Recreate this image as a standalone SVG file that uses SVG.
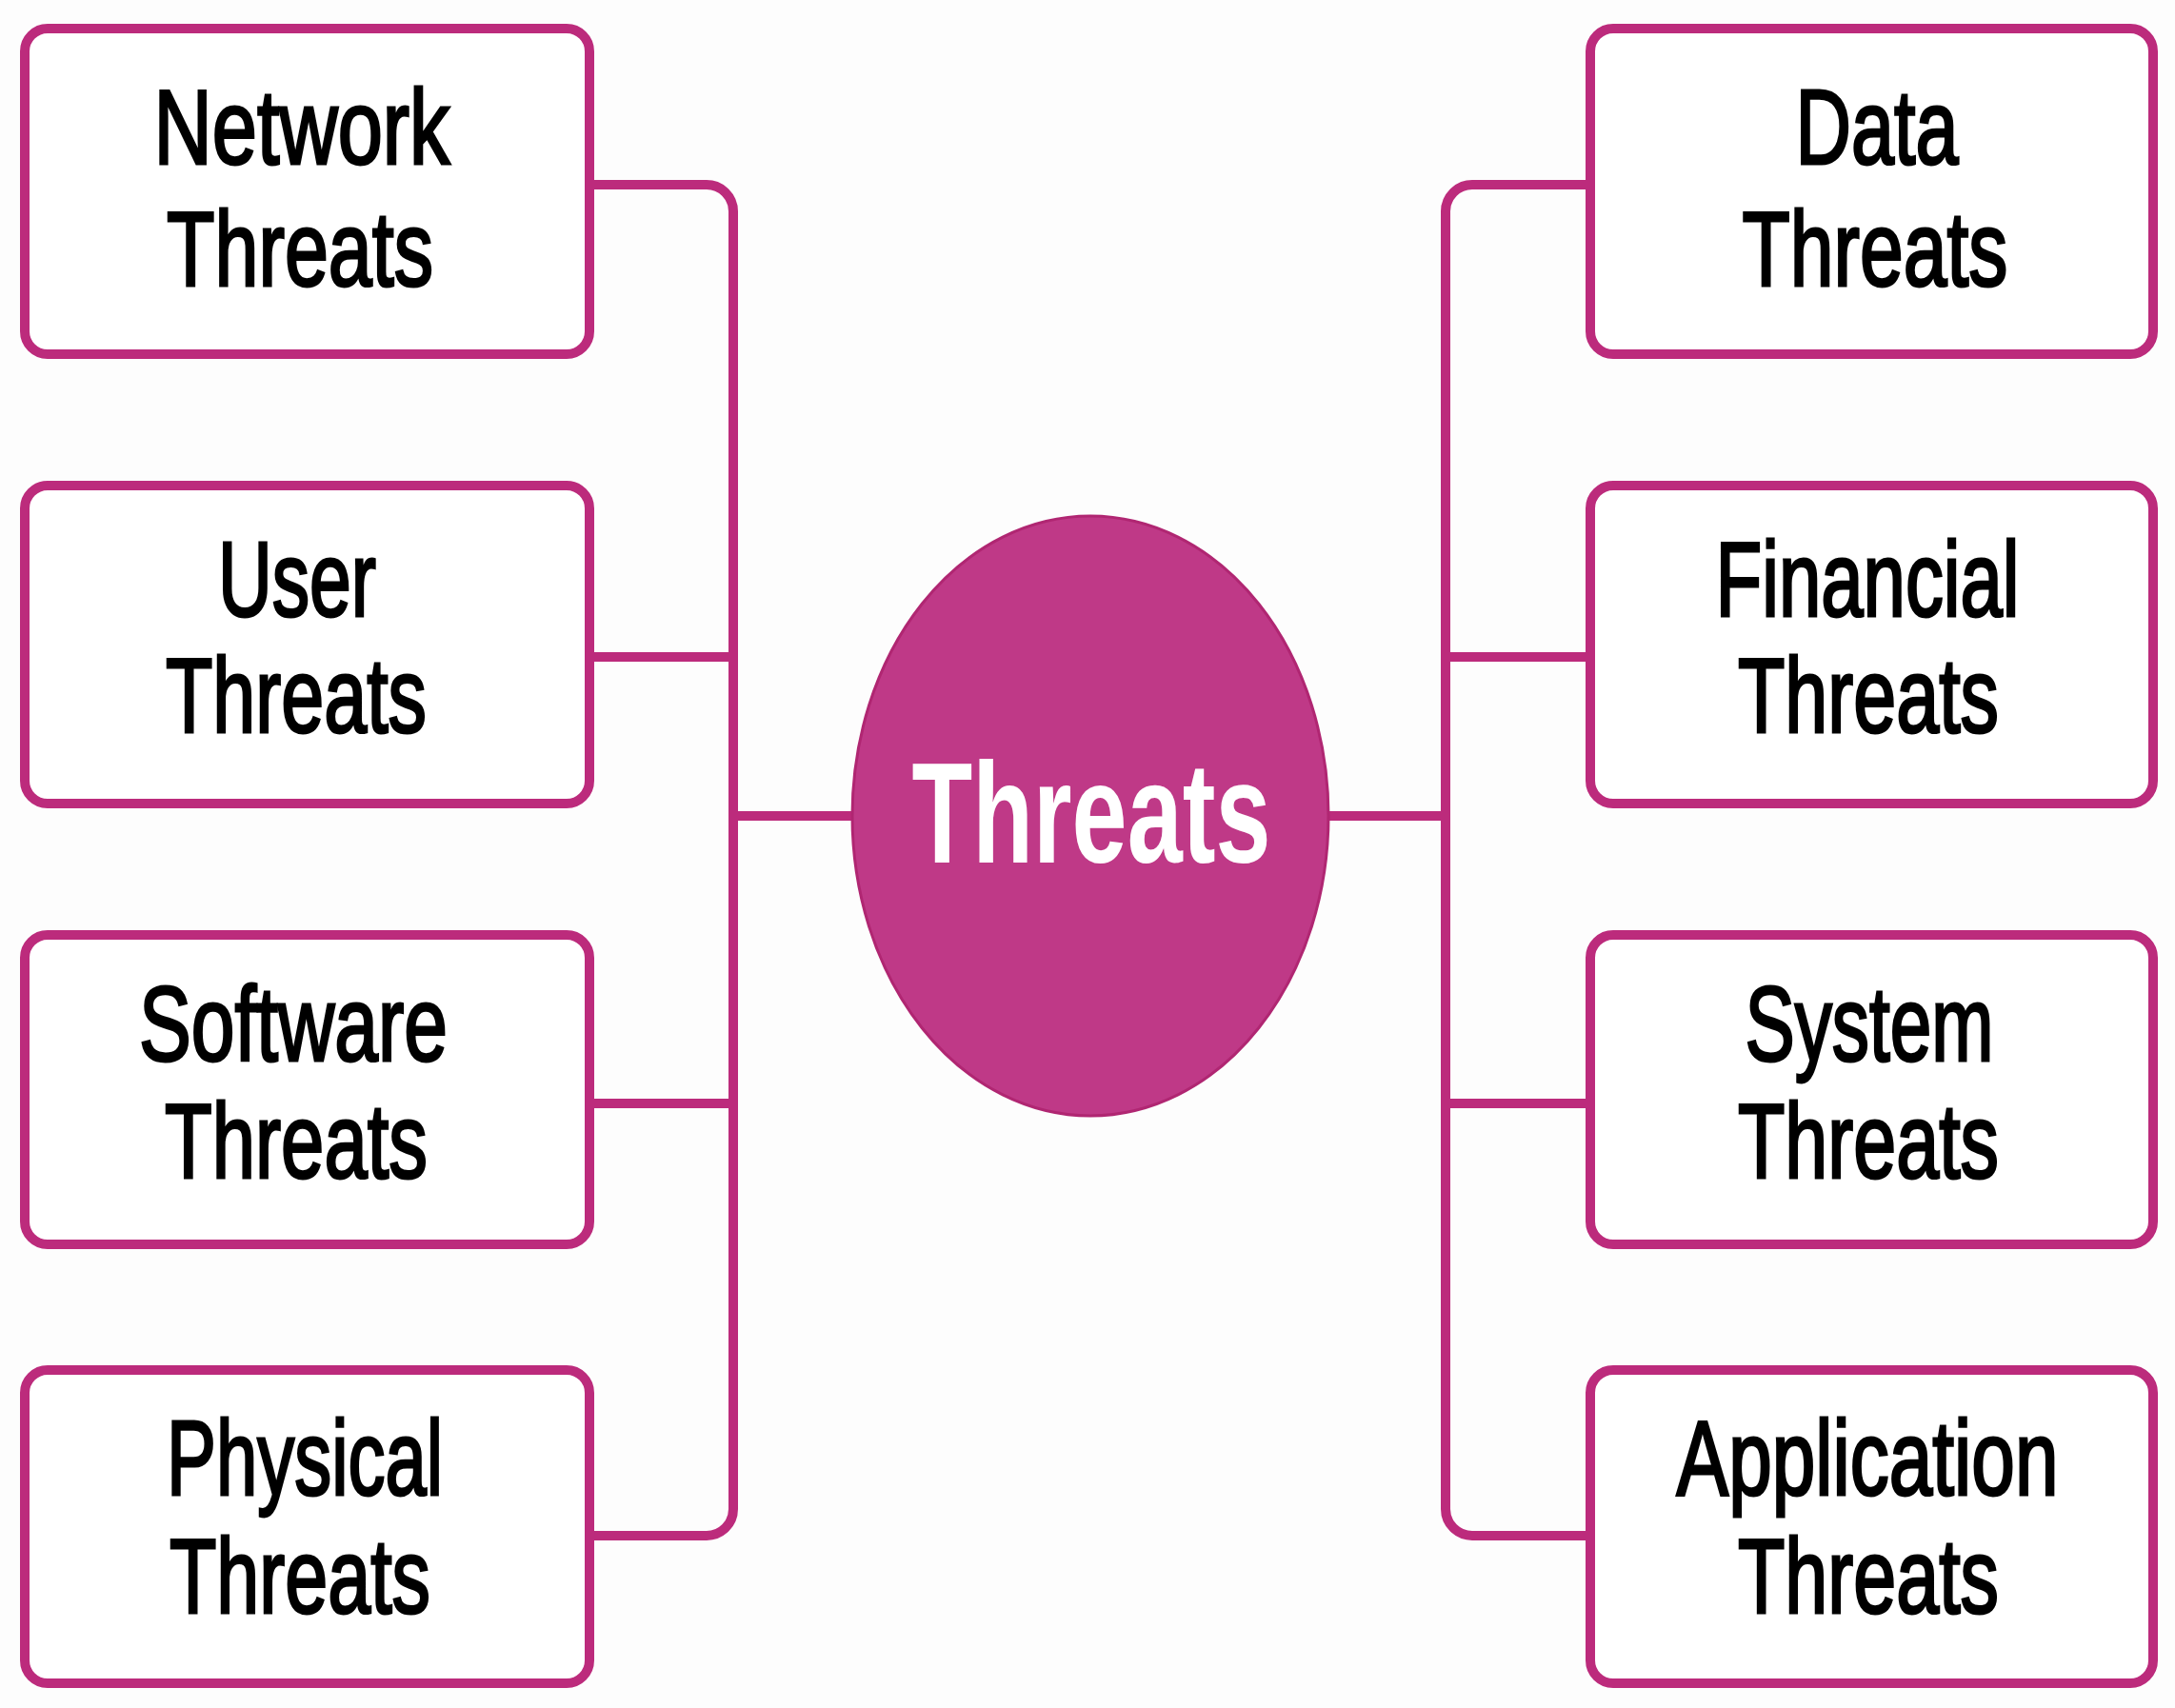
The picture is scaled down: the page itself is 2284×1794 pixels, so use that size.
<svg xmlns="http://www.w3.org/2000/svg" width="2284" height="1794" viewBox="0 0 2284 1794">
<style>
.box{fill:#ffffff;stroke:#BC2B7C;stroke-width:10}
.lbl{font-family:"Liberation Sans",Arial,sans-serif;font-size:112px;fill:#000000;stroke:#000000;stroke-width:3;text-anchor:middle}
.conn{fill:none;stroke:#BC2B7C;stroke-width:10;stroke-linejoin:round}
.hub{fill:#BF3987;stroke:#B02672;stroke-width:3}
.hubt{font-family:"Liberation Sans",Arial,sans-serif;font-size:150px;font-weight:bold;fill:#ffffff;text-anchor:middle}
</style>
<rect width="2284" height="1794" fill="#fdfdfd"/>
<g id="connectors">
<path class="conn" d="M619 194 H742 A28 28 0 0 1 770 222 V1585 A28 28 0 0 1 742 1613 H619"/>
<path class="conn" d="M619 690 H770"/>
<path class="conn" d="M619 1159 H770"/>
<path class="conn" d="M770 857 H896"/>
<path class="conn" d="M1670 194 H1546 A28 28 0 0 0 1518 222 V1585 A28 28 0 0 0 1546 1613 H1670"/>
<path class="conn" d="M1670 690 H1518"/>
<path class="conn" d="M1670 1159 H1518"/>
<path class="conn" d="M1518 857 H1394"/>
</g>
<g id="hub">
<ellipse class="hub" cx="1145" cy="857" rx="250" ry="315"/>
<text class="hubt" x="1146" y="906" textLength="377" lengthAdjust="spacingAndGlyphs">Threats</text>
</g>
<g id="network">
<rect class="box" x="26" y="30" width="593" height="342" rx="24"/>
<text class="lbl" x="317" y="172" textLength="311" lengthAdjust="spacingAndGlyphs">Network</text>
<text class="lbl" x="315" y="300" textLength="280" lengthAdjust="spacingAndGlyphs">Threats</text>
</g>
<g id="user">
<rect class="box" x="26" y="510" width="593" height="334" rx="24"/>
<text class="lbl" x="312" y="647" textLength="166" lengthAdjust="spacingAndGlyphs">User</text>
<text class="lbl" x="311" y="769" textLength="274" lengthAdjust="spacingAndGlyphs">Threats</text>
</g>
<g id="software">
<rect class="box" x="26" y="982" width="593" height="325" rx="24"/>
<text class="lbl" x="308" y="1114" textLength="324" lengthAdjust="spacingAndGlyphs">Software</text>
<text class="lbl" x="311" y="1237" textLength="276" lengthAdjust="spacingAndGlyphs">Threats</text>
</g>
<g id="physical">
<rect class="box" x="26" y="1439" width="593" height="329" rx="24"/>
<text class="lbl" x="320" y="1570" textLength="290" lengthAdjust="spacingAndGlyphs">Physical</text>
<text class="lbl" x="315" y="1694" textLength="274" lengthAdjust="spacingAndGlyphs">Threats</text>
</g>
<g id="data">
<rect class="box" x="1670" y="30" width="591" height="342" rx="24"/>
<text class="lbl" x="1971" y="172" textLength="171" lengthAdjust="spacingAndGlyphs">Data</text>
<text class="lbl" x="1969" y="300" textLength="279" lengthAdjust="spacingAndGlyphs">Threats</text>
</g>
<g id="financial">
<rect class="box" x="1670" y="510" width="591" height="334" rx="24"/>
<text class="lbl" x="1961" y="647" textLength="319" lengthAdjust="spacingAndGlyphs">Financial</text>
<text class="lbl" x="1962" y="769" textLength="274" lengthAdjust="spacingAndGlyphs">Threats</text>
</g>
<g id="system">
<rect class="box" x="1670" y="982" width="591" height="325" rx="24"/>
<text class="lbl" x="1963" y="1114" textLength="261" lengthAdjust="spacingAndGlyphs">System</text>
<text class="lbl" x="1962" y="1237" textLength="274" lengthAdjust="spacingAndGlyphs">Threats</text>
</g>
<g id="application">
<rect class="box" x="1670" y="1439" width="591" height="329" rx="24"/>
<text class="lbl" x="1961" y="1570" textLength="401" lengthAdjust="spacingAndGlyphs">Application</text>
<text class="lbl" x="1962" y="1694" textLength="274" lengthAdjust="spacingAndGlyphs">Threats</text>
</g>
</svg>
